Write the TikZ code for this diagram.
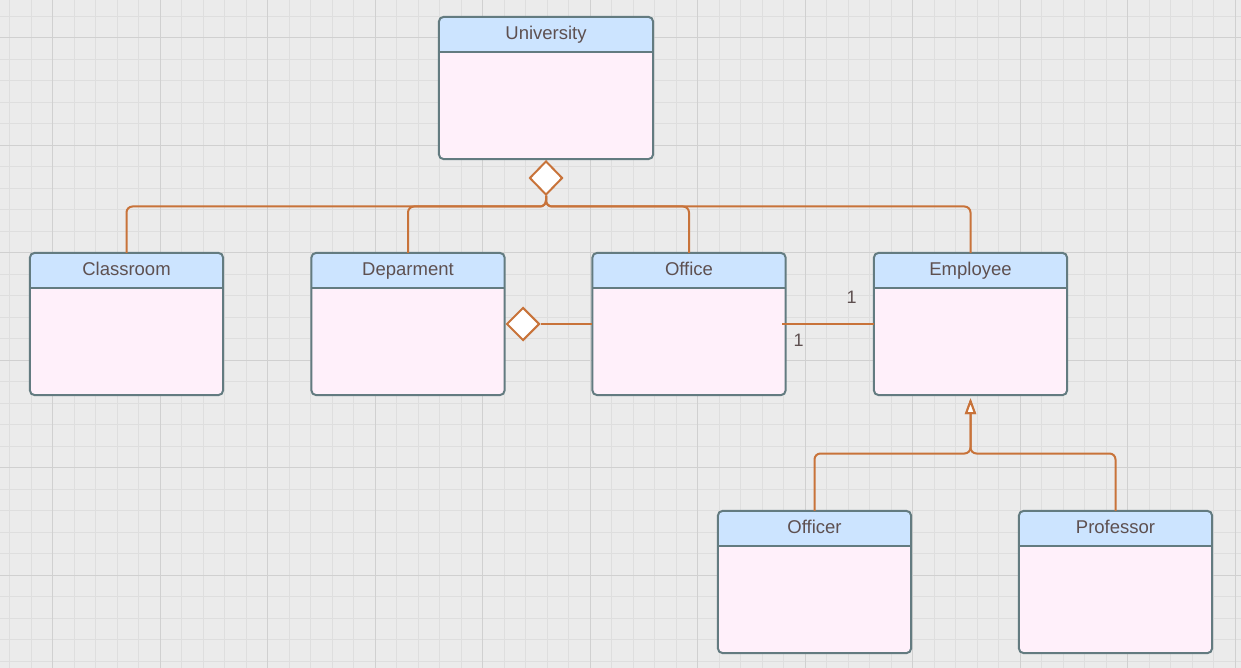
\documentclass[tikz,border=0pt]{standalone}
\usepackage{fontspec}
\setmainfont{Liberation Sans}
\usetikzlibrary{shapes.geometric,arrows.meta}
\definecolor{bg}{HTML}{EBEBEB}
\definecolor{gminor}{HTML}{DEDEDE}
\definecolor{gmajor}{HTML}{D0D0D0}
\definecolor{headfill}{HTML}{CCE4FF}
\definecolor{bodyfill}{HTML}{FFF0FA}
\definecolor{boxline}{HTML}{637B80}
\definecolor{conn}{HTML}{C8733A}
\definecolor{txt}{HTML}{5E5050}
\tikzset{
  classnode/.style={draw=none, inner sep=0pt, minimum height=142pt},
  boxborder/.style={draw=boxline, line width=2pt},
  titletext/.style={text=txt, font=\fontsize{18.5}{22}\selectfont, inner sep=0pt, anchor=base},
  multtext/.style={text=txt, font=\fontsize{18}{22}\selectfont, inner sep=0pt},
  link/.style={draw=conn, line width=2pt},
  aggr/.style={diamond, draw=conn, fill=white, line width=2pt, inner sep=0pt, aspect=1},
}
\newcommand{\umlclass}[5]{%
  \node[classnode, minimum width=#4pt] (#1) at (#2,#3) {};
  \fill[bodyfill, rounded corners=5pt] (#1.south west) rectangle (#1.north east);
  \begin{scope}
    \clip[rounded corners=5pt] (#1.south west) rectangle (#1.north east);
    \fill[headfill] (#1.north west) rectangle ([yshift=-35pt]#1.north east);
  \end{scope}
  \draw[boxborder] ([yshift=-35pt]#1.north west) -- ([yshift=-35pt]#1.north east);
  \draw[boxborder, rounded corners=5pt] (#1.south west) rectangle (#1.north east);
  \node[titletext] (#1-t) at ([yshift=-22.5pt]#1.north) {#5};
}
\begin{document}
\begin{tikzpicture}[x=1pt, y=-1pt]
\useasboundingbox (0,0) rectangle (1241,668);
\fill[bg] (0,0) rectangle (1241,668);
% grid
\foreach \i in {0,...,57} {
  \pgfmathsetmacro\xx{round(9+21.5*\i)+0.5}
  \draw[gminor, line width=1pt] (\xx,0) -- (\xx,668);
}
\foreach \i in {0,...,31} {
  \pgfmathsetmacro\yy{round(15.5+21.5*\i)+0.5}
  \draw[gminor, line width=1pt] (0,\yy) -- (1241,\yy);
}
\foreach \i in {0,...,11} {
  \pgfmathsetmacro\xx{round(52+107.5*\i)+0.5}
  \draw[gmajor, line width=1pt] (\xx,0) -- (\xx,668);
}
\foreach \i in {0,...,5} {
  \pgfmathsetmacro\yy{round(37+107.5*\i)+0.5}
  \draw[gmajor, line width=1pt] (0,\yy) -- (1241,\yy);
}
% classes
\umlclass{univ}{546}{88}{214}{University}
\umlclass{classroom}{126.5}{324}{193}{Classroom}
\umlclass{dept}{408}{324}{193}{Deparment}
\umlclass{office}{689}{324}{193}{Office}
\umlclass{employee}{970.5}{324}{193}{Employee}
\umlclass{officer}{814.5}{582}{193}{Officer}
\umlclass{professor}{1115.5}{582}{193}{Professor}
% aggregation from University
\node[aggr, minimum width=33pt, minimum height=34pt] (udia) at (546,178) {};
\coordinate (ubus) at (546,206.5);
\foreach \t in {classroom, dept, office, employee} {
  \draw[link, rounded corners=6pt] (udia.south) |- (\t.north |- ubus) -- (\t.north);
}
% Department - Office aggregation
\node[aggr, minimum width=33pt, minimum height=33pt] (ddia) at (523,324) {};
\draw[link] (ddia.east) -- (office.west |- ddia.east);
% Office - Employee association
\coordinate (oe) at (782,324);
\draw[link] (oe) -- (employee.west |- oe);
\node[multtext] (m1) at (851.5,297) {1};
\node[multtext] (m2) at (798.5,340) {1};
% generalization
\coordinate (gbus) at (970.5,453.5);
\draw[link, rounded corners=6pt, -{Triangle[open, fill=white, length=16pt, width=11pt]}, shorten >=3pt]
  (officer.north) |- (gbus) -- (employee.south);
\draw[link, rounded corners=6pt, -{Triangle[open, fill=white, length=16pt, width=11pt]}, shorten >=3pt]
  (professor.north) |- (gbus) -- (employee.south);
\end{tikzpicture}
\end{document}
